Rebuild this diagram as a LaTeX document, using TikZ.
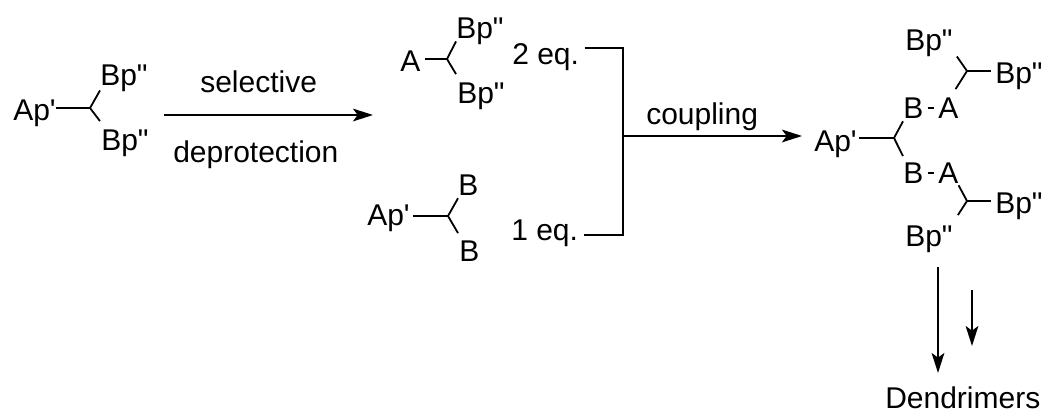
\documentclass[tikz,border=0pt]{standalone}
\usepackage{fontspec}
\setmainfont{Liberation Sans}[Ligatures=TeXOff]
\usetikzlibrary{arrows.meta}
\newcommand{\bpp}{Bp"}
\begin{document}
\begin{tikzpicture}[x=0.75pt, y=-0.75pt, >={Stealth[length=15pt,width=9.5pt,inset=3.5pt]},
    font=\fontsize{22.5}{27}\selectfont]
  \tikzstyle{lbl}=[inner sep=0pt, anchor=base west]
  \tikzstyle{bond}=[line width=1.35pt, line join=miter]
  \tikzstyle{link}=[line width=1.7pt]
  \useasboundingbox (0,0) rectangle (1045,414);

  % --- starting material ---
  \node[lbl] (ap1) at (13,120) {Ap'};
  \node[lbl] (bp1) at (100,85) {\bpp};
  \node[lbl] (bp2) at (101,150) {\bpp};
  \coordinate (c1) at (90,108);
  \draw[bond] (ap1.east |- c1) -- (c1);
  \draw[bond] ([shift={(0,-1)}]bp1.south west) -- (c1) -- ([shift={(-1,-8)}]bp2.north west);

  % --- deprotection step ---
  \node[lbl] (sel) at (200,92) {selective};
  \node[lbl] (dep) at (173,162) {deprotection};
  \coordinate (s1) at (164,115);
  \coordinate (e1) at (373,115);
  \draw[->, link] (s1) -- (e1);

  % --- the two building blocks ---
  \node[lbl] (a2) at (400,71) {A};
  \node[lbl] (bp3) at (456,38) {\bpp};
  \node[lbl] (bp4) at (457,103) {\bpp};
  \coordinate (c2) at (447,59);
  \draw[bond] (a2.east |- c2) ++(4,0) -- (c2);
  \draw[bond] ([shift={(0,-3)}]bp3.south west) -- (c2) -- ([shift={(-1,-8)}]bp4.north west);

  \node[lbl] (ap2) at (367,225) {Ap'};
  \node[lbl] (b1) at (458,195) {B};
  \node[lbl] (b2) at (459,261) {B};
  \coordinate (c3) at (448,216);
  \draw[bond] (ap2.east |- c3) ++(3,0) -- (c3);
  \draw[bond] ([shift={(0,3)}]b1.south west) -- (c3) -- ([shift={(-1,-7)}]b2.north west);

  \node[lbl] (eq2) at (512,64) {2 eq.};
  \node[lbl] (eq1) at (511,240) {1 eq.};

  % --- bracket and coupling arrow ---
  \coordinate (jt) at (623,48);
  \coordinate (jm) at (623,136);
  \coordinate (jb) at (623,235);
  \draw[link, shorten <=4pt, shorten >=4pt] (eq2.east |- jt) -- (jt) -- (jb) -- (eq1.east |- jb);
  \node[lbl] (cpl) at (646,124) {coupling};

  % --- product ---
  \node[lbl] (ap3) at (814,151) {Ap'};
  \coordinate (c4) at (894,138);
  \draw[bond] (ap3.east |- c4) ++(2,0) -- (c4);
  \draw[->, link, shorten >=9pt] (jm) -- (ap3.west |- jm);

  \node[lbl] (b3) at (903,118) {B};
  \node[lbl] (a3) at (938,118) {A};
  \node[lbl] (b4) at (903,183) {B};
  \node[lbl] (a4) at (938,183) {A};
  \draw[bond] ([shift={(0,3)}]b3.south west) -- (c4) -- ([shift={(0,-6)}]b4.north west);
  \draw[link, shorten <=3pt, shorten >=3pt] (b3.east) -- (a3.west);
  \draw[link, shorten <=3pt, shorten >=3pt] (b4.east) -- (a4.west);

  % --- upper branch ---
  \node[lbl] (bp5) at (905,50) {\bpp};
  \node[lbl] (bp6) at (995,83) {\bpp};
  \coordinate (c5) at (967,71);
  \draw[bond] (bp6.west |- c5) ++(-4,0) -- (c5);
  \draw[bond] ([shift={(4,0)}]bp5.south east) -- (c5) -- ([shift={(-3,-8)}]a3.north east);

  % --- lower branch ---
  \node[lbl] (bp7) at (995,213) {\bpp};
  \node[lbl] (bp8) at (905,246) {\bpp};
  \coordinate (c6) at (967,201);
  \draw[bond] (bp7.west |- c6) ++(-4,0) -- (c6);
  \draw[bond] ([shift={(0,2)}]a4.south east) -- (c6) -- ([shift={(5,-10)}]bp8.north east);

  % --- on to the dendrimers ---
  \node[lbl] (den) at (885,408) {Dendrimers};
  \coordinate (d1) at (938,267);
  \coordinate (d2) at (938,373);
  \coordinate (d3) at (972,290);
  \coordinate (d4) at (972,346);
  \draw[->, link] (d1) -- (d2);
  \draw[->, link] (d3) -- (d4);
\end{tikzpicture}
\end{document}
